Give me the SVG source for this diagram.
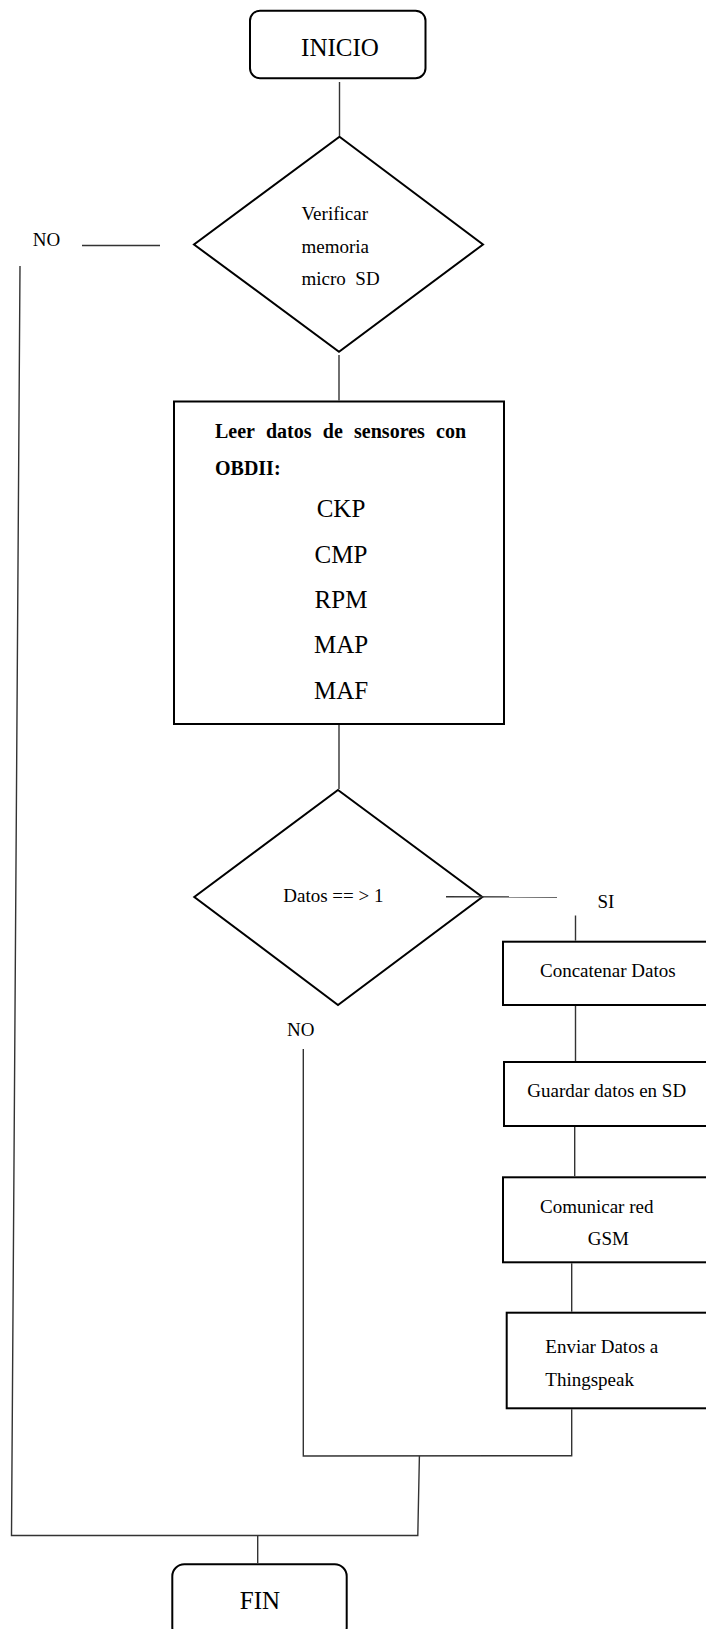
<svg xmlns="http://www.w3.org/2000/svg" width="706" height="1629" viewBox="0 0 706 1629">
<style>
.box{fill:#fff;stroke:#000;stroke-width:2}
.ln{fill:none;stroke:#333;stroke-width:1.4}
text{font-family:"Liberation Serif","Times New Roman",serif;fill:#000}
.s{font-size:19px}
.m{font-size:25px}
.b{font-size:20px;font-weight:bold}
</style>
<rect width="706" height="1629" fill="#fff"/>
<g id="inicio">
<rect class="box" x="250" y="10.7" width="175.5" height="67.5" rx="10"/>
<text class="m" x="340" y="56" text-anchor="middle">INICIO</text>
</g>
<g id="verificar">
<polygon class="box" points="339.5,136.7 483,244.5 339,351.7 194,244.5"/>
<text class="s" x="301.5" y="220">Verificar</text>
<text class="s" x="301.5" y="253">memoria</text>
<text class="s" x="301.5" y="285" xml:space="preserve">micro  SD</text>
</g>
<g id="no1">
<text class="s" x="32.7" y="246">NO</text>
</g>
<g id="leer">
<rect class="box" x="174" y="401.5" width="330" height="322.5"/>
<text class="b" x="215" y="437.7" word-spacing="6.3">Leer datos de sensores con</text>
<text class="b" x="215" y="475">OBDII:</text>
<text class="m" x="341" y="516.7" text-anchor="middle">CKP</text>
<text class="m" x="341" y="562.7" text-anchor="middle">CMP</text>
<text class="m" x="341" y="608.3" text-anchor="middle">RPM</text>
<text class="m" x="341" y="653.3" text-anchor="middle">MAP</text>
<text class="m" x="341" y="699.3" text-anchor="middle">MAF</text>
</g>
<g id="datos">
<polygon class="box" points="338,790 482.3,897 338,1005 194.3,897"/>
<text class="s" x="283.3" y="902.3">Datos == &gt; 1</text>
</g>
<g id="si">
<text class="s" x="597.5" y="907.5">SI</text>
</g>
<g id="no2">
<text class="s" x="287" y="1035.5">NO</text>
</g>
<g id="concatenar">
<rect class="box" x="503" y="941.7" width="220" height="63.3"/>
<text class="s" x="540" y="976.5">Concatenar Datos</text>
</g>
<g id="guardar">
<rect class="box" x="504" y="1062" width="220" height="64"/>
<text class="s" x="527.3" y="1097.3">Guardar datos en SD</text>
</g>
<g id="comunicar">
<rect class="box" x="503" y="1177.3" width="220" height="85"/>
<text class="s" x="540" y="1212.7">Comunicar red</text>
<text class="s" x="587.7" y="1245">GSM</text>
</g>
<g id="enviar">
<rect class="box" x="506.7" y="1312.7" width="220" height="95.6"/>
<text class="s" x="545.3" y="1353.3">Enviar Datos a</text>
<text class="s" x="545.3" y="1385.7">Thingspeak</text>
</g>
<g id="fin">
<rect class="box" x="172.3" y="1564.3" width="174.4" height="75" rx="12"/>
<text class="m" x="260" y="1609.3" text-anchor="middle">FIN</text>
</g>
<g id="connectors">
<line class="ln" x1="339.5" y1="82" x2="339.5" y2="136"/>
<line class="ln" x1="82" y1="245.5" x2="160" y2="245.5"/>
<line class="ln" x1="339" y1="355" x2="339" y2="400.5"/>
<line class="ln" x1="339" y1="725" x2="339" y2="789"/>
<line class="ln" x1="446" y1="896.8" x2="557" y2="897"/>
<line class="ln" x1="575.5" y1="915.5" x2="575.5" y2="940.7"/>
<line class="ln" x1="575.5" y1="1006" x2="575.5" y2="1061"/>
<line class="ln" x1="574.7" y1="1127" x2="574.7" y2="1176.3"/>
<line class="ln" x1="571.7" y1="1263.3" x2="571.7" y2="1311.7"/>
<polyline class="ln" points="571.7,1409.3 571.7,1455.7 303.3,1456 303.3,1049"/>
<polyline class="ln" points="419.4,1456 417.8,1535.5 11.5,1535.5 20,266"/>
<line class="ln" x1="257.7" y1="1535.5" x2="257.7" y2="1563.3"/>
</g>
</svg>
